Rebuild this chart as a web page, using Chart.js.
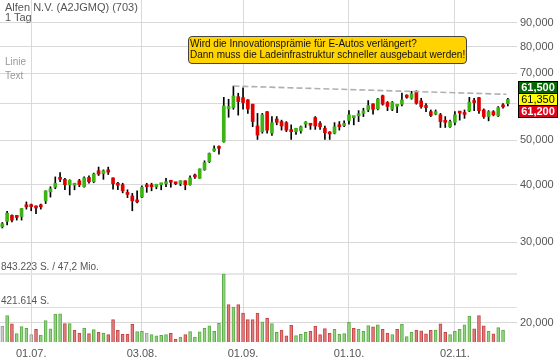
<!DOCTYPE html>
<html>
<head>
<meta charset="utf-8">
<title>Alfen N.V. (A2JGMQ)</title>
<script src="https://cdn.jsdelivr.net/npm/chart.js@4.4.0/dist/chart.umd.min.js"></script>
<style>
  body { margin: 0; background: #fff; }
  #wrap { position: relative; width: 560px; height: 362px; font-family: "Liberation Sans", Arial, sans-serif; }
  #wrap canvas { position: absolute; left: 0; top: 0; }
  .txt { position: absolute; white-space: nowrap; }
  #title { left: 5px; top: 2px; font-size: 11px; line-height: 10px; color: #555; }
  #modes { left: 5px; top: 55px; font-size: 10px; line-height: 14px; color: #999; }
  #note { left: 188px; top: 36px; font-size: 10px; line-height: 11px; color: #111; background: #ffd400;
          border: 1px solid #444; border-radius: 4px; padding: 1px 1px 3px 1px; }
</style>
</head>
<body>
<div id="wrap">
  <canvas id="chart" width="560" height="362"></canvas>
  <div class="txt" id="title">Alfen N.V. (A2JGMQ) (703)<br>1 Tag</div>
  <div class="txt" id="modes">Linie<br>Text</div>
  <div class="txt" id="note">Wird die Innovationsprämie für E-Autos verlängert?<br>Dann muss die Ladeinfrastruktur schneller ausgebaut werden!</div>
</div>
<script>
// trading days 23.06. - 17.11.
const dates = [
  '23.06.', '24.06.', '25.06.', '26.06.', '29.06.', '30.06.',
  '01.07.', '02.07.', '03.07.', '06.07.', '07.07.', '08.07.', '09.07.', '10.07.', '13.07.', '14.07.',
  '15.07.', '16.07.', '17.07.', '20.07.', '21.07.', '22.07.', '23.07.', '24.07.', '27.07.', '28.07.',
  '29.07.', '30.07.', '31.07.',
  '03.08.', '04.08.', '05.08.', '06.08.', '07.08.', '10.08.', '11.08.', '12.08.', '13.08.', '14.08.',
  '17.08.', '18.08.', '19.08.', '20.08.', '21.08.', '24.08.', '25.08.', '26.08.', '27.08.', '28.08.', '31.08.',
  '01.09.', '02.09.', '03.09.', '04.09.', '07.09.', '08.09.', '09.09.', '10.09.', '11.09.', '14.09.',
  '15.09.', '16.09.', '17.09.', '18.09.', '21.09.', '22.09.', '23.09.', '24.09.', '25.09.', '28.09.',
  '29.09.', '30.09.',
  '01.10.', '02.10.', '05.10.', '06.10.', '07.10.', '08.10.', '09.10.', '12.10.', '13.10.', '14.10.',
  '15.10.', '16.10.', '19.10.', '20.10.', '21.10.', '22.10.', '23.10.', '26.10.', '27.10.', '28.10.',
  '29.10.', '30.10.',
  '02.11.', '03.11.', '04.11.', '05.11.', '06.11.', '09.11.', '10.11.', '11.11.', '12.11.', '13.11.',
  '16.11.', '17.11.'
];

const opens = [
  32400, 33300, 34300, 34000, 34100, 35900, 35900, 35700, 35900, 36900,
  38600, 39500, 41200, 41100, 40000, 39900, 40800, 39600, 41500, 40600,
  42900, 42300, 43100, 41400, 40000, 40000, 38200, 37800, 36800, 37600,
  40000, 39900, 39600, 40000, 40200, 40600, 40300, 40200, 40800, 40000,
  42000, 41300, 43100, 44900, 47400, 48100, 49600, 58600, 58900, 62200,
  61900, 61200, 59900, 53700, 52200, 57700, 51800, 55600, 54900, 54600,
  52600, 52200, 52400, 54200, 54000, 56000, 54400, 53100, 51700, 51800,
  53600, 53800, 55200, 56000, 56500, 57200, 58200, 60000, 58500, 62500,
  60400, 58400, 59300, 59900, 62700, 61700, 63800, 60900, 59000, 57700,
  57000, 56800, 54800, 53500, 54700, 57400, 57000, 57900, 60500, 61900,
  58200, 56300, 57700, 56500, 59200, 60100
];
const highs = [
  33100, 35000, 34400, 34300, 35500, 36700, 36300, 36000, 36300, 38800,
  39600, 41600, 42500, 41300, 41000, 40300, 41100, 41600, 41800, 42400,
  43700, 43100, 43700, 41400, 40500, 40300, 39000, 38300, 38800, 39800,
  40300, 40300, 40100, 40300, 41300, 40800, 40400, 40800, 40800, 41800,
  42200, 43300, 45100, 46900, 48600, 48600, 62000, 61400, 65600, 63300,
  65000, 61300, 59900, 57200, 57200, 57700, 56300, 56300, 55300, 54900,
  54000, 53100, 53700, 54900, 54400, 56300, 54900, 53700, 52200, 54600,
  54900, 55100, 58000, 56300, 58000, 58700, 61000, 60000, 61700, 62700,
  60700, 60700, 59800, 63300, 62800, 63900, 64100, 61700, 60100, 58200,
  58200, 57200, 56300, 55300, 57700, 57700, 58200, 62000, 61700, 62000,
  58500, 58000, 58000, 59200, 60100, 61700
];
const lows = [
  32200, 32700, 33200, 33500, 33500, 35400, 35100, 34600, 35400, 36400,
  37600, 39200, 40600, 39000, 38000, 39000, 39600, 39500, 40300, 40400,
  41900, 41100, 42100, 39100, 39000, 38400, 37500, 35100, 36500, 37500,
  38500, 38800, 39200, 39000, 39600, 39500, 40000, 39800, 39000, 39900,
  41300, 41300, 43000, 44700, 47300, 46600, 49500, 56100, 58400, 56700,
  58400, 57200, 53500, 50200, 51800, 51800, 51200, 54000, 52600, 52200,
  50200, 51500, 51800, 53300, 52800, 52800, 52800, 50200, 50200, 51600,
  52600, 53500, 54200, 54000, 54900, 56300, 57700, 57000, 58200, 59600,
  58000, 58000, 57400, 59400, 61700, 61400, 59900, 58700, 57700, 56300,
  56800, 53300, 53300, 53300, 54000, 55300, 55800, 57700, 58000, 57200,
  55800, 55100, 56500, 56300, 58700, 59400
];
const closes = [
  32900, 34700, 33500, 33950, 35500, 35800, 35850, 35600, 35800, 38800,
  39200, 40300, 41100, 40000, 40900, 40300, 40000, 41400, 40600, 42200,
  42200, 42900, 42600, 40200, 39900, 38800, 38100, 36900, 36700, 39500,
  39600, 39600, 40100, 40300, 40600, 40500, 40200, 40800, 40000, 41400,
  41600, 43300, 44700, 46800, 47900, 48000, 59400, 58700, 62400, 60700,
  60400, 58500, 54900, 51300, 56800, 52600, 54600, 54700, 53700, 52600,
  52200, 53100, 53500, 54300, 53900, 53700, 53500, 51900, 51600, 53500,
  53500, 54400, 56800, 56100, 57100, 57900, 59500, 58400, 61500, 59900,
  59200, 60400, 59400, 61200, 62000, 63100, 60200, 59200, 58900, 56600,
  57700, 54900, 54700, 54900, 56800, 57300, 56900, 60500, 60400, 58000,
  56300, 57700, 56800, 58900, 59100, 61350
];
const volumes = [
  195000, 328000, 224000, 104000, 191000, 170000, 91000, 158000, 87000, 266000,
  162000, 345000, 349000, 228000, 228000, 145000, 112000, 174000, 104000, 154000,
  120000, 108000, 91000, 278000, 145000, 95000, 95000, 220000, 129000, 133000,
  112000, 91000, 75000, 83000, 91000, 108000, 37000, 62000, 91000, 129000,
  62000, 125000, 170000, 199000, 133000, 232000, 843223, 465000, 432000, 465000,
  357000, 278000, 278000, 357000, 249000, 295000, 228000, 120000, 149000, 75000,
  208000, 79000, 95000, 120000, 133000, 195000, 91000, 166000, 108000, 158000,
  95000, 104000, 245000, 170000, 158000, 133000, 203000, 187000, 212000, 158000,
  112000, 91000, 158000, 220000, 66000, 120000, 145000, 137000, 100000, 145000,
  149000, 224000, 120000, 91000, 133000, 158000, 212000, 320000, 162000, 328000,
  199000, 133000, 100000, 179000, 149000, null
];
// volume bar tone: g = up, r = down, n = unchanged
const volTone = ('ngrgggnrgg' + 'gggrgrrgrg' + 'rgrrrrrrgg' + 'nggggrrgrg' + 'gggggggrgr' +
  'rrrrgrggrr' + 'rgggrrrrrg' + 'gggrgggrgr' + 'rgrgggrrrr' + 'grrgggggrr' + 'rgrggn').split('');

const tickLabels = ['01.07.', '03.08.', '01.09.', '01.10.', '02.11.'];
const priceTicks = [20000, 30000, 40000, 50000, 60000, 70000, 80000, 90000];
const volTicks = [421614, 843223];
const volTickLabels = ['421.614 S.', '843.223 S. / 47,2 Mio.'];

// dashed trend line from the high
const trendX = [48, 104.7];
const trendY = [65600, 62950];

// quote boxes: ask / last / bid
const quoteValues = [61500, 61350, 61200];

const GREEN = '#3cb414';
const RED = '#e00000';
const volFill = { g: '#93d283', r: '#e27b7b', n: '#cccccc' };
const volLine = { g: '#5aab46', r: '#c44646', n: '#9c9c9c' };
const quoteFill = ['#006600', '#ffff00', '#e2001a'];
const quoteText = ['#ffffff', '#000000', '#ffffff'];

Chart.defaults.font.family = '"Liberation Sans", Arial, sans-serif';

const idx = dates.map((d, i) => i);
const up = idx.map(i => closes[i] >= opens[i]);
const tickIdx = tickLabels.map(t => dates.indexOf(t));

// keep the plot flush with the canvas edges
const noPad = s => {
    s.paddingTop = 0;
    s.paddingBottom = 0;
    s.paddingLeft = 0;
    s.paddingRight = 0;
};

const quotePlugin = {
    id: 'quotes',
    afterDraw(chart) {
        const { ctx, chartArea, scales } = chart;
        const mid = scales.y.getPixelForValue(quoteValues[1]);
        const h = 12, w = 39, x = Math.round(chartArea.right) + 1.5;
        ctx.save();
        ctx.textAlign = 'center';
        ctx.textBaseline = 'middle';
        quoteValues.forEach((v, k) => {
            const top = Math.round(mid - h * 1.5 + k * h) + 0.5;
            ctx.fillStyle = quoteFill[k];
            ctx.fillRect(x, top, w, h);
            ctx.strokeStyle = '#000';
            ctx.lineWidth = 1;
            ctx.strokeRect(x, top, w, h);
            ctx.font = (k === 1 ? '' : 'bold ') + '11px "Liberation Sans", Arial, sans-serif';
            ctx.fillStyle = quoteText[k];
            ctx.fillText(v.toLocaleString('en-US'), x + w / 2, top + h / 2 + 0.5);
        });
        ctx.restore();
    }
};

new Chart(document.getElementById('chart'), {
    type: 'bar',
    data: {
        datasets: [
            {
                type: 'line',
                data: trendX.map((x, k) => ({ x, y: trendY[k] })),
                borderColor: '#b0b0b0',
                borderWidth: 1.6,
                borderDash: [6, 3],
                pointRadius: 0,
                yAxisID: 'y',
                order: 0
            },
            {
                data: idx.map(i => ({ x: i, y: [opens[i], closes[i]] })),
                backgroundColor: up.map(u => u ? GREEN : RED),
                barThickness: 3,
                minBarLength: 2,
                grouped: false,
                yAxisID: 'y',
                order: 1
            },
            {
                data: idx.map(i => ({ x: i, y: [lows[i], highs[i]] })),
                backgroundColor: '#000',
                barThickness: 1,
                grouped: false,
                yAxisID: 'y',
                order: 2
            },
            {
                data: idx.map(i => ({ x: i, y: volumes[i] })),
                backgroundColor: volTone.map(t => volFill[t]),
                borderColor: volTone.map(t => volLine[t]),
                borderWidth: 1,
                barThickness: 3,
                grouped: false,
                yAxisID: 'yVol',
                order: 3
            }
        ]
    },
    options: {
        responsive: false,
        animation: false,
        layout: { padding: { left: 0, right: 3, top: 0, bottom: 0 } },
        plugins: {
            legend: { display: false },
            tooltip: { enabled: false }
        },
        scales: {
            x: {
                type: 'linear',
                min: -0.48,
                max: 106.9,
                offset: false,
                afterBuildTicks: s => { s.ticks = tickIdx.map(v => ({ value: v })); },
                afterFit: s => { s.height = 20; noPad(s); },
                ticks: {
                    callback: v => dates[v],
                    color: '#555',
                    font: { size: 11 },
                    padding: 5,
                    maxRotation: 0,
                    autoSkip: false
                },
                grid: { color: '#d9d9d9', drawTicks: false, offset: false },
                border: { display: false }
            },
            y: {
                type: 'logarithmic',
                position: 'right',
                min: 18180,
                max: 101000,
                afterBuildTicks: s => { s.ticks = priceTicks.map(v => ({ value: v })); },
                afterFit: s => { s.width = 40; noPad(s); },
                ticks: {
                    callback: v => v.toLocaleString('en-US'),
                    color: '#555',
                    font: { size: 11 },
                    padding: 3
                },
                grid: { color: '#d9d9d9', drawTicks: false },
                border: { display: false }
            },
            yVol: {
                type: 'linear',
                position: 'left',
                min: 0,
                max: 4240000,
                afterBuildTicks: s => { s.ticks = volTicks.map(v => ({ value: v })); },
                afterFit: s => { s.width = 0; noPad(s); },
                ticks: {
                    mirror: true,
                    padding: 1,
                    labelOffset: -7,
                    color: '#555',
                    font: { size: 10 },
                    callback: v => volTickLabels[volTicks.indexOf(v)]
                },
                grid: {
                    color: c => c.tick && c.tick.value === volTicks[1] ? '#e6e6e6' : '#dedede',
                    lineWidth: c => c.tick && c.tick.value === volTicks[1] ? 2 : 1,
                    drawTicks: false
                },
                border: { display: false }
            }
        }
    },
    plugins: [quotePlugin]
});
</script>
</body>
</html>
